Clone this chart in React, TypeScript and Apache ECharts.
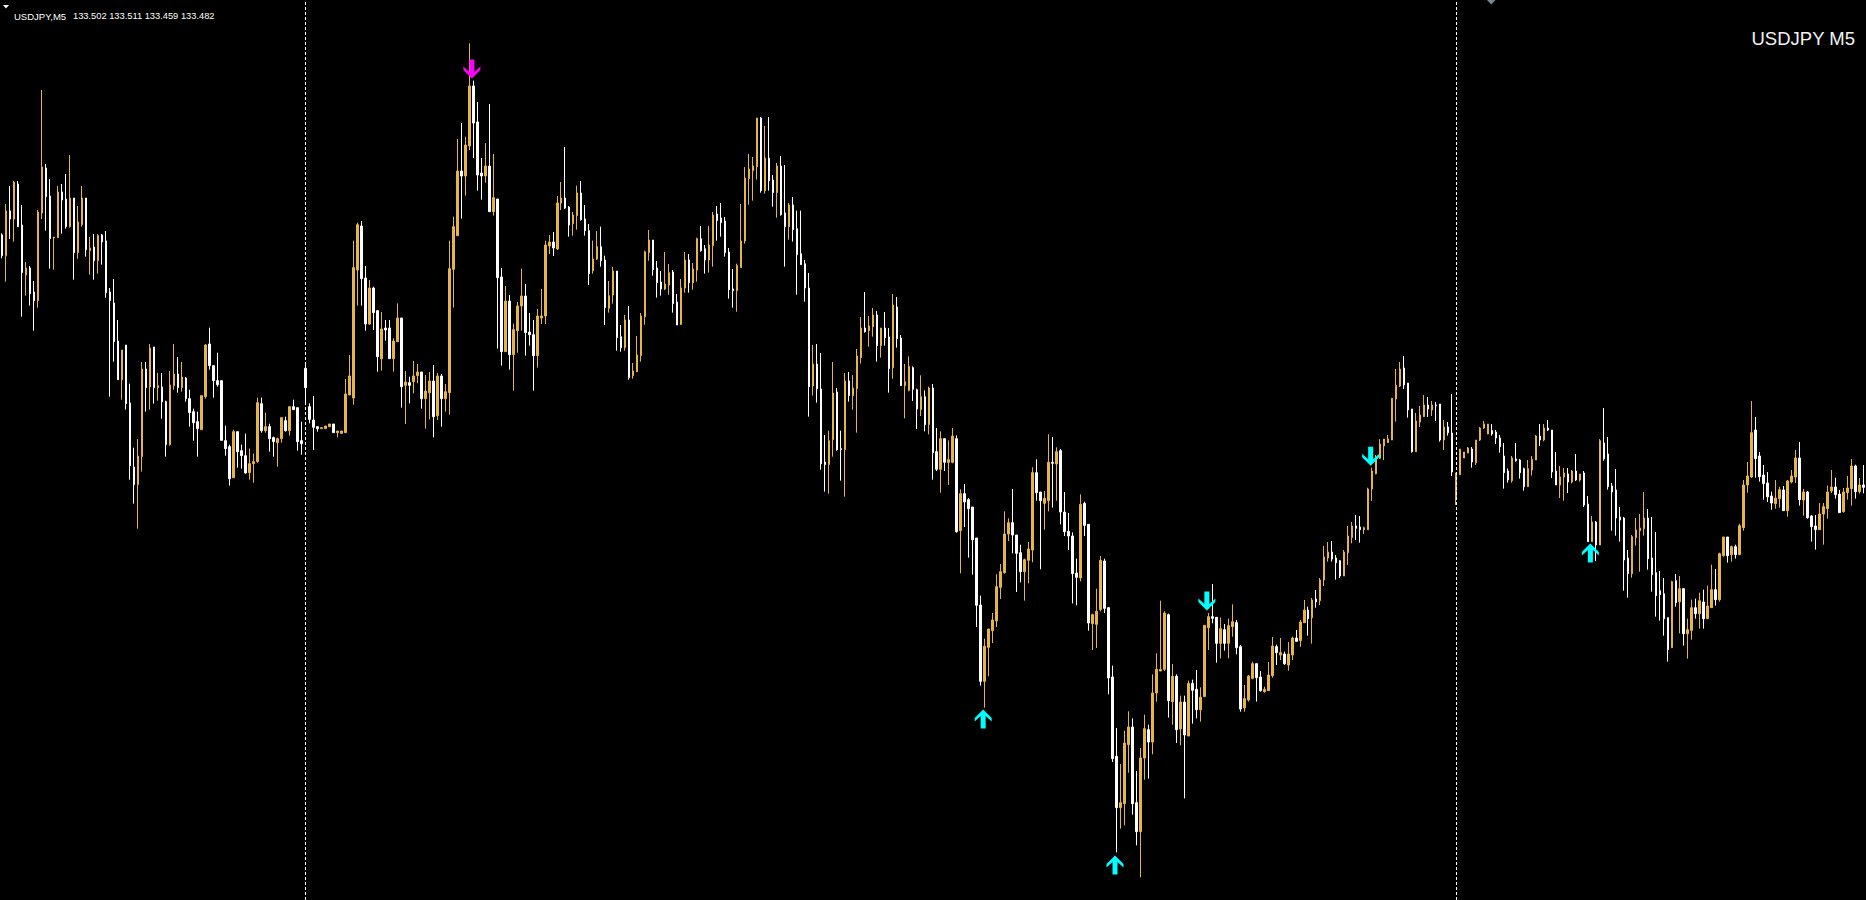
import React, { useEffect, useRef } from "react";
import * as echarts from "echarts";

// Each bar: [open, high, low, close] (USDJPY, M5)
const session1: number[][] = [
  [134.295,134.300,134.225,134.233],[134.233,134.388,134.155,134.367],[134.367,134.442,134.283,134.343],[134.343,134.457,134.275,134.454],
  [134.448,134.457,134.320,134.320],[134.325,134.385,134.050,134.182],[134.175,134.214,134.113,134.196],[134.196,134.202,134.083,134.119],
  [134.124,134.157,134.008,134.098],[134.098,134.370,134.077,134.364],[134.361,134.730,134.343,134.499],[134.496,134.508,134.308,134.410],
  [134.412,134.463,134.194,134.284],[134.286,134.289,134.191,134.289],[134.287,134.442,134.287,134.424],[134.424,134.448,134.299,134.400],
  [134.403,134.478,134.314,134.320],[134.320,134.535,134.317,134.406],[134.406,134.406,134.161,134.242],[134.242,134.382,134.224,134.334],
  [134.326,134.442,134.320,134.406],[134.406,134.406,134.230,134.251],[134.248,134.289,134.176,134.256],[134.259,134.298,134.161,134.218],
  [134.218,134.298,134.179,134.293],[134.295,134.298,134.206,134.274],[134.277,134.307,134.107,134.122],[134.124,134.136,133.810,134.098],
  [134.091,134.163,133.915,133.975],[133.977,134.040,133.861,133.861],[133.861,133.950,133.801,133.950],[133.965,133.965,133.771,133.789],
  [133.791,133.849,133.561,133.603],[133.599,133.657,133.489,133.546],[133.546,133.683,133.414,133.632],[133.630,133.914,133.585,133.893],
  [133.893,133.914,133.765,133.837],[133.839,133.968,133.771,133.956],[133.959,133.959,133.789,133.837],[133.837,133.881,133.798,133.843],
  [133.839,133.881,133.744,133.795],[133.795,133.798,133.630,133.666],[133.666,133.887,133.663,133.845],[133.843,133.968,133.831,133.878],
  [133.878,133.929,133.822,133.837],[133.837,133.914,133.825,133.869],[133.866,133.869,133.795,133.804],[133.804,133.831,133.720,133.762],
  [133.765,133.774,133.678,133.732],[133.735,133.765,133.630,133.714],[133.711,133.813,133.711,133.813],[133.810,133.968,133.804,133.965],
  [133.968,134.017,133.891,133.903],[133.903,133.903,133.807,133.858],[133.858,133.942,133.840,133.846],[133.858,133.858,133.679,133.679],
  [133.678,133.723,133.633,133.654],[133.660,133.666,133.543,133.564],[133.567,133.711,133.567,133.705],[133.705,133.705,133.597,133.645],
  [133.648,133.666,133.594,133.633],[133.633,133.699,133.579,133.581],[133.582,133.654,133.561,133.609],[133.609,133.639,133.552,133.615],
  [133.615,133.807,133.612,133.792],[133.789,133.807,133.702,133.708],[133.708,133.762,133.702,133.720],[133.720,133.729,133.645,133.684],
  [133.687,133.690,133.630,133.675],[133.672,133.687,133.600,133.684],[133.684,133.747,133.672,133.747],[133.738,133.750,133.705,133.708],
  [133.708,133.780,133.693,133.780],[133.780,133.801,133.771,133.771],[133.777,133.777,133.648,133.675],[133.678,133.735,133.636,133.669],
];

const session2: number[][] = [
  [133.895,133.905,133.789,133.837],[133.780,133.790,133.730,133.742],[133.740,133.812,133.650,133.718],[133.720,133.720,133.705,133.714],
  [133.714,133.717,133.714,133.717],[133.714,133.722,133.714,133.722],[133.720,133.728,133.720,133.728],[133.728,133.728,133.702,133.702],
  [133.702,133.707,133.688,133.707],[133.700,133.707,133.700,133.707],[133.702,133.863,133.702,133.818],[133.815,133.935,133.815,133.872],
  [133.806,134.278,133.786,134.197],[134.190,134.332,134.083,134.326],[134.322,134.337,134.083,134.164],[134.166,134.202,134.008,134.028],
  [134.028,134.160,134.025,134.136],[134.136,134.140,134.010,134.062],[134.068,134.070,133.885,133.930],[133.924,134.064,133.888,134.013],
  [134.016,134.040,133.978,134.010],[134.016,134.040,133.924,133.924],[133.924,133.985,133.885,133.977],[133.975,134.090,133.975,134.046],
  [134.046,134.046,133.777,133.840],[133.844,133.887,133.728,133.854],[133.852,133.870,133.790,133.844],[133.855,133.917,133.820,133.872],
  [133.873,133.908,133.850,133.884],[133.884,133.884,133.774,133.804],[133.804,133.875,133.714,133.827],[133.822,133.884,133.742,133.857],
  [133.857,133.905,133.688,133.750],[133.753,133.881,133.740,133.872],[133.872,133.878,133.720,133.804],[133.804,133.848,133.765,133.825],
  [133.822,134.278,133.756,134.194],[134.192,134.350,134.077,134.320],[134.293,134.583,134.293,134.487],[134.487,134.631,134.344,134.472],
  [134.472,134.590,134.413,134.565],[134.562,134.870,134.550,134.742],[134.742,134.758,134.526,134.631],[134.634,134.694,134.428,134.475],
  [134.481,134.526,134.401,134.472],[134.472,134.571,134.452,134.502],[134.502,134.688,134.365,134.365],[134.365,134.538,134.353,134.407],
  [134.403,134.403,133.954,134.167],[134.169,134.196,133.903,133.945],[133.945,134.142,133.945,134.097],[134.097,134.115,133.891,133.936],
  [133.936,134.029,133.828,134.011],[134.008,134.094,133.942,134.082],[134.082,134.194,134.008,134.112],[134.112,134.148,133.933,134.002],
  [134.004,134.061,133.963,133.996],[133.996,134.040,133.828,133.933],[133.933,134.073,133.897,134.052],[134.046,134.133,134.028,134.052],
  [134.052,134.278,134.028,134.265],[134.262,134.295,134.238,134.274],[134.274,134.304,134.232,134.256],[134.253,134.412,134.250,134.391],
  [134.391,134.454,134.370,134.406],[134.406,134.559,134.373,134.376],[134.379,134.382,134.290,134.325],[134.329,134.364,134.293,134.355],
  [134.353,134.443,134.311,134.421],[134.421,134.457,134.338,134.341],[134.343,134.385,134.293,134.308],[134.308,134.328,134.145,134.179],
  [134.188,134.278,134.179,134.223],[134.223,134.307,134.220,134.260],[134.260,134.320,134.200,134.218],[134.220,134.233,134.025,134.077],
  [134.075,134.157,134.062,134.113],[134.115,134.199,134.089,134.187],[134.187,134.187,133.948,133.987],[133.990,134.025,133.945,133.957],
  [133.957,134.055,133.948,134.040],[134.040,134.082,133.861,133.867],[133.873,133.911,133.864,133.887],[133.885,133.992,133.885,133.935],
  [133.933,134.061,133.915,134.052],[134.050,134.248,134.026,134.245],[134.242,134.310,134.218,134.280],[134.280,134.280,134.173,134.191],
  [134.196,134.217,134.107,134.152],[134.154,134.187,134.113,134.133],[134.133,134.244,134.130,134.148],[134.145,134.208,134.116,134.182],
  [134.184,134.190,134.062,134.089],[134.094,134.118,134.025,134.025],[134.027,134.163,134.025,134.136],[134.136,134.244,134.122,134.220],
  [134.220,134.238,134.122,134.152],[134.152,134.211,134.131,134.193],[134.190,134.287,134.155,134.284],[134.284,134.322,134.245,134.248],
  [134.254,134.265,134.179,134.220],[134.220,134.322,134.182,134.265],[134.263,134.364,134.200,134.355],[134.358,134.382,134.278,134.338],
  [134.346,134.391,134.290,134.332],[134.337,134.349,134.230,134.242],[134.244,134.256,134.104,134.131],[134.133,134.193,134.077,134.128],
  [134.128,134.209,134.065,134.203],[134.197,134.388,134.197,134.277],[134.277,134.499,134.269,134.466],[134.464,134.538,134.386,134.493],
  [134.488,134.529,134.398,134.502],[134.500,134.646,134.461,134.646],[134.646,134.649,134.422,134.428],[134.428,134.622,134.419,134.526],
  [134.526,134.649,134.428,134.458],[134.460,134.475,134.380,134.422],[134.422,134.511,134.347,134.502],[134.502,134.532,134.353,134.356],
  [134.361,134.505,134.200,134.320],[134.320,134.391,134.281,134.385],[134.385,134.409,134.275,134.311],[134.314,134.368,134.116,134.236],
  [134.239,134.368,134.206,134.206],[134.209,134.220,134.095,134.136],[134.136,134.181,133.750,133.840],[133.842,133.965,133.813,133.908],
  [133.908,133.968,133.792,133.834],[133.833,133.941,133.591,133.609],[133.614,133.695,133.525,133.606],[133.606,133.708,133.519,133.678],
  [133.681,133.914,133.630,133.821],[133.824,133.836,133.648,133.651],[133.654,133.708,133.558,133.651],[133.651,133.881,133.510,133.857],
  [133.857,133.884,133.795,133.813],[133.813,133.875,133.771,133.836],[133.834,133.953,133.702,133.932],[133.927,134.049,133.909,134.016],
  [134.016,134.124,134.002,134.005],[134.008,134.052,133.960,134.022],[134.020,134.076,133.990,134.055],[134.055,134.067,133.915,133.963],
  [133.963,134.016,133.927,134.016],[134.016,134.064,133.963,133.987],[133.989,134.016,133.822,133.894],[133.897,134.118,133.864,134.085],
  [134.079,134.109,133.957,133.984],[133.986,133.995,133.843,133.843],[133.843,133.908,133.745,133.855],[133.829,133.931,133.826,133.901],
  [133.897,133.901,133.797,133.832],[133.831,133.834,133.713,133.773],[133.771,133.874,133.752,133.810],[133.810,133.829,133.706,133.726],
  [133.726,133.840,133.697,133.836],[133.836,133.848,133.561,133.642],[133.645,133.716,133.587,133.592],[133.592,133.706,133.522,133.684],
  [133.684,133.684,133.587,133.613],[133.613,133.679,133.545,133.621],[133.613,133.716,133.610,133.692],[133.684,133.694,133.402,133.405],
  [133.408,133.532,133.280,133.519],[133.519,133.548,133.419,133.494],[133.501,133.506,133.327,133.474],[133.479,133.479,133.276,133.381],
  [133.386,133.386,133.119,133.184],[133.185,133.213,132.943,132.956],[132.956,133.084,132.877,133.061],[133.058,133.113,132.971,133.113],
  [133.108,133.161,133.071,133.140],[133.137,133.277,133.119,133.240],[133.238,133.308,133.203,133.285],[133.282,133.466,133.279,133.398],
  [133.398,133.445,133.377,133.432],[133.432,133.533,133.340,133.395],[133.395,133.395,133.224,133.340],[133.342,133.366,133.253,133.285],
  [133.285,133.324,133.198,133.321],[133.319,133.374,133.250,133.353],[133.350,133.598,133.313,133.582],[133.582,133.622,133.498,133.522],
  [133.524,133.524,133.292,133.498],[133.490,133.527,133.411,133.505],[133.498,133.697,133.466,133.613],[133.613,133.689,133.477,133.610],
  [133.608,133.658,133.498,133.645],[133.648,133.653,133.427,133.464],[133.464,133.524,133.392,133.405],[133.406,133.461,133.350,133.392],
  [133.392,133.403,133.190,133.279],[133.281,133.324,133.184,133.268],[133.266,133.517,133.256,133.487],[133.490,133.495,133.392,133.424],
  [133.427,133.427,133.108,133.131],[133.129,133.159,133.050,133.156],[133.127,133.234,133.056,133.166],[133.171,133.332,133.166,133.319],
  [133.317,133.324,133.161,133.175],[133.177,133.179,132.917,132.966],[132.969,133.003,132.714,132.724],[132.731,132.816,132.443,132.577],
  [132.577,132.708,132.514,132.592],[132.589,132.808,132.524,132.771],[132.766,132.866,132.682,132.819],[132.819,132.845,132.556,132.589],
  [132.592,132.687,132.464,132.505],[132.505,132.756,132.368,132.726],[132.726,132.856,132.661,132.814],[132.811,132.826,132.664,132.774],
  [132.774,132.977,132.737,132.921],[132.921,133.040,132.895,132.992],[132.987,133.198,132.987,132.992],[132.992,133.166,132.987,133.161],
  [133.156,133.159,132.847,132.898],[132.895,133.008,132.826,132.971],[132.971,132.977,132.771,132.811],[132.813,132.913,132.764,132.894],
  [132.894,132.913,132.605,132.795],[132.792,132.958,132.792,132.950],[132.950,132.961,132.829,132.929],[132.932,132.990,132.845,132.871],
  [132.871,132.938,132.835,132.908],[132.910,133.124,132.910,133.124],[133.117,133.161,133.050,133.150],[133.150,133.248,133.130,133.145],
  [133.148,133.148,133.012,133.070],[133.070,133.147,133.025,133.114],[133.111,133.128,133.048,133.070],[133.070,133.144,133.025,133.123],
  [133.120,133.187,133.090,133.135],[133.132,133.140,133.037,133.057],[133.060,133.065,132.865,132.873],[132.876,132.945,132.865,132.904],
  [132.900,132.975,132.895,132.972],[132.965,133.015,132.962,133.009],[133.009,133.009,132.895,132.967],[132.969,132.987,132.925,132.928],
  [132.925,132.940,132.922,132.932],[132.928,133.014,132.928,132.975],[132.973,133.089,132.967,133.062],[133.060,133.066,133.005,133.042],
  [133.035,133.086,133.020,133.042],[133.038,133.045,133.005,133.009],[133.005,133.074,132.988,133.038],[133.035,133.090,133.020,133.086],
  [133.086,133.110,133.075,133.076],[133.078,133.140,133.060,133.134],[133.132,133.200,133.132,133.170],[133.170,133.180,133.093,133.144],
  [133.147,133.206,133.069,133.200],[133.203,133.230,133.177,133.194],[133.198,133.266,133.185,133.260],[133.260,133.362,133.242,133.329],
  [133.326,133.374,133.315,133.344],[133.344,133.377,133.315,133.323],[133.326,133.335,133.261,133.312],[133.318,133.320,133.266,133.272],
  [133.272,133.350,133.272,133.344],[133.342,133.422,133.305,133.392],[133.387,133.434,133.370,133.422],[133.422,133.455,133.380,133.415],
  [133.419,133.452,133.372,133.411],[133.411,133.420,133.398,133.417],[133.411,133.537,133.410,133.533],[133.533,133.597,133.497,133.587],
  [133.579,133.635,133.577,133.627],[133.625,133.683,133.623,133.668],[133.662,133.683,133.620,133.683],[133.672,133.695,133.672,133.683],
  [133.680,133.805,133.680,133.805],[133.803,133.893,133.735,133.844],[133.842,133.914,133.839,133.893],[133.896,133.932,133.833,133.845],
  [133.851,133.851,133.747,133.770],[133.773,133.773,133.642,133.645],[133.645,133.761,133.645,133.737],[133.734,133.782,133.719,133.755],
  [133.750,133.815,133.750,133.785],[133.785,133.809,133.749,133.773],[133.770,133.797,133.752,133.785],[133.785,133.794,133.737,133.783],
  [133.788,133.788,133.675,133.680],[133.680,133.740,133.650,133.719],[133.719,133.734,133.693,133.702],[133.701,133.818,133.572,133.584],
];

const session3: number[][] = [
  [133.507,133.582,133.485,133.578],[133.576,133.653,133.576,133.653],[133.626,133.644,133.626,133.644],[133.641,133.659,133.641,133.656],
  [133.653,133.659,133.597,133.614],[133.612,133.680,133.605,133.680],[133.680,133.719,133.677,133.716],[133.716,133.737,133.713,133.728],
  [133.698,133.728,133.698,133.728],[133.708,133.728,133.693,133.698],[133.704,133.710,133.668,133.686],[133.686,133.695,133.642,133.660],
  [133.632,133.671,133.534,133.582],[133.587,133.595,133.552,133.560],[133.558,133.632,133.552,133.626],[133.623,133.671,133.615,133.618],
  [133.620,133.623,133.564,133.582],[133.594,133.597,133.528,133.540],[133.540,133.620,133.540,133.594],[133.590,133.632,133.573,133.622],
  [133.620,133.695,133.620,133.692],[133.692,133.728,133.662,133.680],[133.680,133.728,133.676,133.716],[133.716,133.740,133.707,133.710],
  [133.710,133.710,133.566,133.584],[133.587,133.644,133.545,133.545],[133.545,133.602,133.506,133.569],[133.569,133.596,133.498,133.581],
  [133.578,133.596,133.521,133.554],[133.554,133.590,133.550,133.587],[133.587,133.638,133.557,133.560],[133.560,133.578,133.555,133.578],
  [133.581,133.587,133.479,133.485],[133.488,133.512,133.375,133.375],[133.375,133.452,133.375,133.434],[133.434,133.437,133.317,133.365],
  [133.365,133.683,133.365,133.678],[133.671,133.776,133.618,133.624],[133.638,133.689,133.531,133.540],[133.542,133.551,133.408,133.524],
  [133.530,133.593,133.393,133.446],[133.449,133.479,133.375,133.440],[133.446,133.449,133.228,133.320],[133.326,133.350,133.207,133.279],
  [133.279,133.395,133.267,133.390],[133.387,133.446,133.363,133.410],[133.408,133.458,133.285,133.416],[133.414,133.524,133.393,133.446],
  [133.446,133.473,133.291,133.324],[133.326,133.449,133.225,133.276],[133.282,133.404,133.150,133.213],[133.228,133.287,133.138,133.216],
  [133.219,133.266,133.093,133.144],[133.147,133.147,133.015,133.051],[133.057,133.258,133.057,133.255],[133.258,133.278,133.180,133.192],
  [133.195,133.272,133.100,133.234],[133.234,133.234,133.063,133.099],[133.099,133.144,133.024,133.111],[133.109,133.201,133.081,133.177],
  [133.177,133.204,133.144,133.159],[133.159,133.222,133.114,133.198],[133.194,133.231,133.114,133.144],[133.144,133.243,133.144,133.182],
  [133.177,133.306,133.177,133.231],[133.231,133.293,133.183,133.201],[133.201,133.342,133.195,133.339],[133.333,133.389,133.330,133.389],
  [133.389,133.389,133.312,133.333],[133.336,133.363,133.315,133.360],[133.360,133.366,133.324,133.336],[133.336,133.429,133.336,133.423],
  [133.417,133.560,133.408,133.545],[133.545,133.614,133.522,133.572],[133.569,133.797,133.566,133.702],[133.710,133.749,133.567,133.624],
  [133.632,133.644,133.555,133.570],[133.575,133.605,133.501,133.549],[133.551,133.584,133.494,133.509],[133.512,133.525,133.471,133.491],
  [133.489,133.560,133.474,133.506],[133.504,133.540,133.477,133.531],[133.530,133.542,133.468,133.468],[133.468,133.560,133.450,133.557],
  [133.554,133.590,133.550,133.572],[133.569,133.650,133.551,133.626],[133.626,133.674,133.483,133.501],[133.500,133.533,133.453,133.524],
  [133.524,133.527,133.444,133.447],[133.452,133.455,133.375,133.420],[133.422,133.455,133.351,133.411],[133.411,133.491,133.411,133.458],
  [133.458,133.491,133.366,133.480],[133.474,133.543,133.444,133.524],[133.527,133.590,133.521,133.539],[133.539,133.567,133.504,133.516],
  [133.518,133.530,133.462,133.462],[133.465,133.536,133.462,133.524],[133.522,133.572,133.501,133.536],[133.534,133.623,133.483,133.602],
  [133.602,133.606,133.504,133.525],[133.525,133.566,133.519,133.545],[133.545,133.605,133.520,133.538],
];

// Signal arrows: [bar index, price]
const cyanUp: number[][] = [[246, 132.843], [279, 132.405], [398, 133.341]];
const cyanDown: number[][] = [[302, 133.197], [343, 133.631]];
const magentaDown: number[][] = [[117, 134.793]];

// Period separators (bar index of each new day)
const separators: number[] = [76, 364];

const headerSymbol = "USDJPY,M5";
const headerPrices = "133.502 133.511 133.459 133.482";
const chartTitle = "USDJPY M5";

const BULL = "#E6B54A";
const BEAR = "#FFFFFF";

const UP_ARROW = "path://M8.5 0 L17 8.5 L17 12 L11 6.5 L11 19 L6 19 L6 6.5 L0 12 L0 8.5 Z";
const DOWN_ARROW = "path://M8.5 19 L17 10.5 L17 7 L11 12.5 L11 0 L6 0 L6 12.5 L0 7 L0 10.5 Z";

export default function App() {
  const ref = useRef<HTMLDivElement>(null);

  useEffect(() => {
    document.body.style.margin = "0";
    document.body.style.background = "#000";
    if (!ref.current) return;
    const chart = echarts.init(ref.current, undefined, { renderer: "svg" });

    const bars = [...session1, ...session2, ...session3];
    const categories = bars.map((_, i) => String(i));
    const candleData = bars.map(([o, h, l, c]) => [o, c, l, h]);

    chart.setOption({
      animation: false,
      backgroundColor: "#000000",
      grid: { left: -2.5, right: 0.5, top: 0, bottom: 0, containLabel: false },
      xAxis: {
        type: "category",
        data: categories,
        show: false,
        boundaryGap: true,
      },
      yAxis: {
        type: "value",
        min: 132.3,
        max: 135.0,
        show: false,
        splitLine: { show: false },
      },
      series: [
        {
          type: "candlestick",
          data: candleData,
          barWidth: 2,
          silent: true,
          itemStyle: {
            color: BULL,
            color0: BEAR,
            borderColor: BULL,
            borderColor0: BEAR,
            borderWidth: 1,
          },
          markLine: {
            silent: true,
            symbol: ["none", "none"],
            label: { show: false },
            lineStyle: { color: "#FFFFFF", width: 1, type: [3, 2], opacity: 1 },
            data: separators.map((s) => ({ xAxis: s })),
          },
        },
        {
          type: "scatter",
          data: cyanUp,
          symbol: UP_ARROW,
          symbolSize: [17, 19],
          symbolOffset: [-1.5, 0],
          silent: true,
          itemStyle: { color: "#00FFFF", opacity: 1 },
          z: 5,
        },
        {
          type: "scatter",
          data: cyanDown,
          symbol: DOWN_ARROW,
          symbolSize: [17, 19],
          symbolOffset: [-1.5, 0],
          silent: true,
          itemStyle: { color: "#00FFFF", opacity: 1 },
          z: 5,
        },
        {
          type: "scatter",
          data: magentaDown,
          symbol: DOWN_ARROW,
          symbolSize: [17, 19],
          symbolOffset: [2.5, 0],
          silent: true,
          itemStyle: { color: "#FF00FF", opacity: 1 },
          z: 5,
        },
      ],
      graphic: [
        {
          type: "polygon",
          shape: { points: [[3, 5], [9, 5], [6, 8.5]] },
          style: { fill: "#FFFFFF" },
          silent: true,
        },
        {
          type: "text",
          x: 14,
          y: 11,
          style: {
            text: headerSymbol,
            fill: "#FFFFFF",
            font: "9.5px 'Liberation Sans', Arial, sans-serif",
            textBaseline: "alphabetic",
          },
          silent: true,
        },
        {
          type: "text",
          x: 73,
          y: 11,
          style: {
            text: headerPrices,
            fill: "#FFFFFF",
            font: "9.3px 'Liberation Sans', Arial, sans-serif",
            textBaseline: "alphabetic",
          },
          silent: true,
        },
        {
          type: "text",
          x: 1855,
          y: 29,
          style: {
            text: chartTitle,
            fill: "#F2F2F2",
            font: "18.5px 'Liberation Sans', Arial, sans-serif",
            textAlign: "right",
            textBaseline: "alphabetic",
          },
          silent: true,
        },
        {
          type: "polygon",
          shape: { points: [[1487, 0], [1495.5, 0], [1491.25, 4.5]] },
          style: { fill: "#778899" },
          silent: true,
        },
      ],
    });

    return () => {
      chart.dispose();
    };
  }, []);

  return <div ref={ref} style={{ width: 1866, height: 900, background: "#000" }} />;
}
